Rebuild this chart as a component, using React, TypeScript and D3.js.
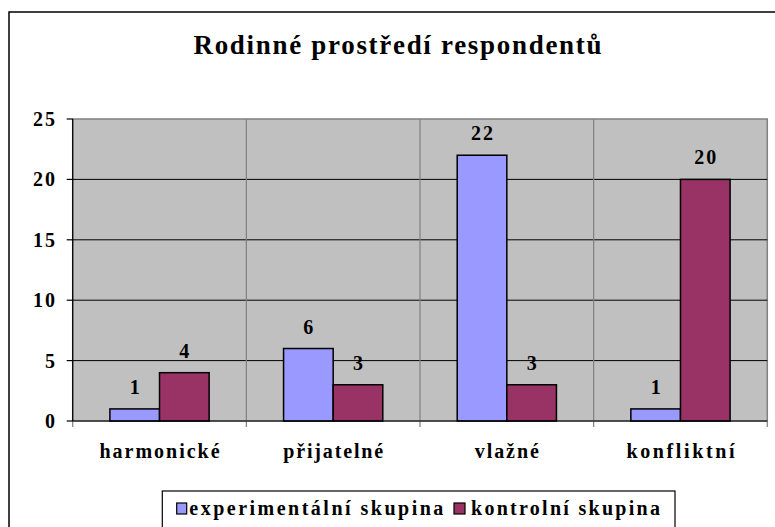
import React from 'react';
import * as d3 from 'd3';

// Chart data
const categories = ['harmonické', 'přijatelné', 'vlažné', 'konfliktní'];
const seriesNames = ['experimentální skupina', 'kontrolní skupina'];
const experimental = [1, 6, 22, 1];
const control = [4, 3, 3, 20];
const yTicks = [0, 5, 10, 15, 20, 25];

const colors = ['#9999FF', '#993366'];
const labelWidths = [120, 100, 64, 108];
const font = '"Liberation Serif", "Times New Roman", serif';

const App: React.FC = () => {
  const width = 775;
  const height = 527;
  const plot = { left: 72.7, right: 767.3, top: 119, bottom: 421 };

  const x0 = d3.scaleBand<string>()
    .domain(categories)
    .range([plot.left, plot.right])
    .padding(0);

  const x1 = d3.scaleBand<number>()
    .domain([0, 1])
    .range([0, x0.bandwidth()])
    .paddingInner(0)
    .paddingOuter(0.75);

  const y = d3.scaleLinear()
    .domain([0, 25])
    .range([plot.bottom, plot.top]);

  const series = [experimental, control];

  return (
    <svg
      width={width}
      height={height}
      style={{ position: 'absolute', left: 0, top: 0, background: '#fff' }}
      fontFamily={font}
      fontWeight="bold"
    >
      {/* outer chart border, runs off the right and bottom */}
      <rect x={9} y={12} width={800} height={560} fill="#fff" stroke="#000" strokeWidth={1.5} />

      {/* title */}
      <text x={397.5} y={54} textAnchor="middle" fontSize={27} textLength={408} lengthAdjust="spacing">
        Rodinné prostředí respondentů
      </text>

      {/* plot area */}
      <rect
        x={plot.left}
        y={plot.top}
        width={plot.right - plot.left}
        height={plot.bottom - plot.top}
        fill="#C0C0C0"
        stroke="#808080"
        strokeWidth={1.5}
      />

      {/* horizontal gridlines */}
      {yTicks.slice(1, -1).map(t => (
        <line key={`g${t}`} x1={plot.left} x2={plot.right} y1={y(t)} y2={y(t)} stroke="#000" strokeWidth={1} />
      ))}

      {/* category separators + ticks below axis */}
      {categories.slice(1).map(c => (
        <line
          key={`v${c}`}
          x1={x0(c)!}
          x2={x0(c)!}
          y1={plot.top}
          y2={plot.bottom + 6}
          stroke="#808080"
          strokeWidth={1.2}
        />
      ))}
      <line x1={plot.left} x2={plot.left} y1={plot.bottom} y2={plot.bottom + 6} stroke="#808080" strokeWidth={1.2} />
      <line x1={plot.right} x2={plot.right} y1={plot.bottom} y2={plot.bottom + 6} stroke="#808080" strokeWidth={1.2} />

      {/* bars */}
      {categories.map((c, i) =>
        series.map((s, j) => (
          <rect
            key={`b${i}-${j}`}
            x={x0(c)! + x1(j)!}
            y={y(s[i])}
            width={x1.bandwidth()}
            height={y(0) - y(s[i])}
            fill={colors[j]}
            stroke="#000"
            strokeWidth={1.5}
          />
        ))
      )}

      {/* data labels */}
      {categories.map((c, i) =>
        series.map((s, j) => {
          const txt = String(s[i]);
          return (
            <text
              key={`l${i}-${j}`}
              x={x0(c)! + x1(j)! + x1.bandwidth() / 2}
              y={y(s[i]) - 15}
              textAnchor="middle"
              fontSize={20}
              {...(txt.length > 1 ? { textLength: 22, lengthAdjust: 'spacing' } : {})}
            >
              {txt}
            </text>
          );
        })
      )}

      {/* axes */}
      <line x1={plot.left} x2={plot.left} y1={plot.top} y2={plot.bottom} stroke="#000" strokeWidth={1.2} />
      <line x1={plot.left} x2={plot.right} y1={plot.bottom} y2={plot.bottom} stroke="#000" strokeWidth={1.2} />
      {yTicks.map(t => (
        <g key={`t${t}`}>
          <line x1={plot.left - 6} x2={plot.left} y1={y(t)} y2={y(t)} stroke="#000" strokeWidth={1.2} />
          <text
            x={55}
            y={y(t)}
            dy="0.35em"
            textAnchor="end"
            fontSize={20}
            {...(String(t).length > 1 ? { textLength: 22, lengthAdjust: 'spacing' } : {})}
          >
            {t}
          </text>
        </g>
      ))}

      {/* category labels */}
      {categories.map((c, i) => (
        <text
          key={`c${c}`}
          x={x0(c)! + x0.bandwidth() / 2}
          y={458}
          textAnchor="middle"
          fontSize={20}
          textLength={labelWidths[i]}
          lengthAdjust="spacing"
        >
          {c}
        </text>
      ))}

      {/* legend */}
      <rect x={162.3} y={491} width={512.7} height={60} fill="#fff" stroke="#000" strokeWidth={1.2} />
      <rect x={176.7} y={503} width={10} height={11} fill={colors[0]} stroke="#000" strokeWidth={1.2} />
      <text x={189.3} y={515} fontSize={20} textLength={254} lengthAdjust="spacing">
        {seriesNames[0]}
      </text>
      <rect x={454} y={503} width={11} height={11} fill={colors[1]} stroke="#000" strokeWidth={1.2} />
      <text x={471} y={515} fontSize={20} textLength={189} lengthAdjust="spacing">
        {seriesNames[1]}
      </text>
    </svg>
  );
};

export default App;
